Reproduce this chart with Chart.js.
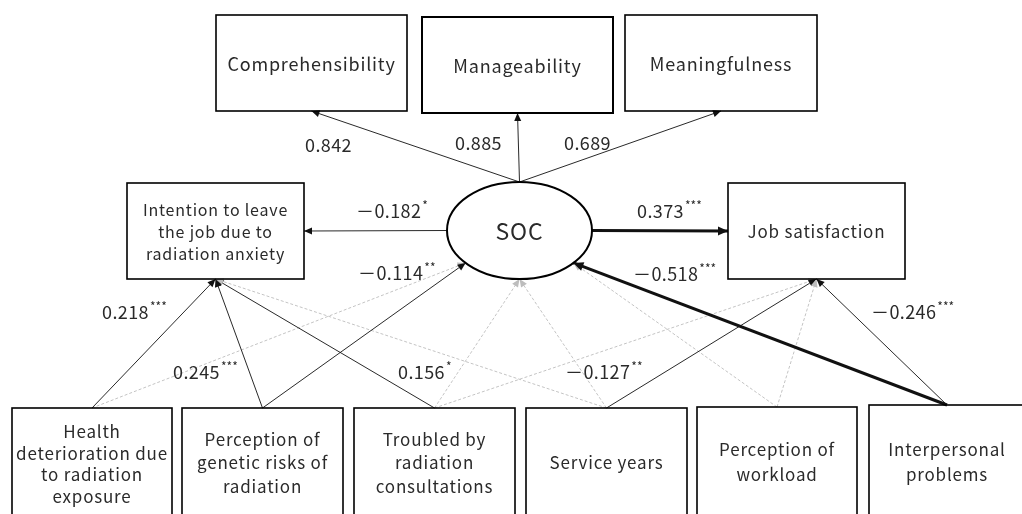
<!DOCTYPE html>
<html>
<head>
<meta charset="utf-8">
<script src="https://cdn.jsdelivr.net/npm/chart.js@4"></script>
<style>
  html, body { margin: 0; padding: 0; background: #fff; }
  #wrap { width: 1022px; height: 514px; }
</style>
</head>
<body>
<div id="wrap"><canvas id="pathChart" width="1022" height="514"></canvas></div>
<script>
// nodes of the path model
var nodeKeys = ["comp", "manag", "mean", "soc", "leave", "job", "health", "genetic", "troubled", "years", "workload", "interp"];
var nodeLabels = [
    ["Comprehensibility"],
    ["Manageability"],
    ["Meaningfulness"],
    ["SOC"],
    ["Intention to leave", "the job due to", "radiation anxiety"],
    ["Job satisfaction"],
    ["Health", "deterioration due", "to radiation", "exposure"],
    ["Perception of", "genetic risks of", "radiation"],
    ["Troubled by", "radiation", "consultations"],
    ["Service years"],
    ["Perception of", "workload"],
    ["Interpersonal", "problems"]
];

// paths (standardised coefficients, null = not significant)
var pathFrom = ["soc", "soc", "soc", "soc", "soc", "health", "genetic", "troubled", "years", "health", "genetic", "troubled", "years", "workload", "interp", "troubled", "years", "workload", "interp"];
var pathTo = ["comp", "manag", "mean", "leave", "job", "leave", "leave", "leave", "leave", "soc", "soc", "soc", "soc", "soc", "soc", "job", "job", "job", "job"];
var pathCoef = ["0.842", "0.885", "0.689", "\uFF0D0.182", "0.373", "0.218", "0.245", "0.156", null, null, "\uFF0D0.114", null, null, null, "\uFF0D0.518", null, "\uFF0D0.127", null, "\uFF0D0.246"];
var pathStars = ["", "", "", "*", "***", "***", "***", "*", "", "", "**", "", "", "", "***", "", "**", "", "***"];

// layout (box left, top, width, height in diagram units)
var nodeBox = {
    comp: [216, 15, 191, 96],
    manag: [422, 17, 191, 96],
    mean: [625, 15, 192, 96],
    soc: [447, 182, 145, 97],
    leave: [127, 183, 177, 96],
    job: [728, 183, 177, 96],
    health: [12, 408, 160, 130],
    genetic: [182, 408, 161, 130],
    troubled: [354, 408, 161, 130],
    years: [526, 408, 161, 130],
    workload: [697, 407, 160, 130],
    interp: [869, 405, 156, 130]
};
var nodeFont = { comp: 18, manag: 18, mean: 18, soc: 23, leave: 16, job: 17 };
var nodeLineH = { leave: 22, health: 21.5, genetic: 23.5, troubled: 23.5, workload: 25, interp: 25 };
var nodeTextY = { health: 464, genetic: 463, troubled: 463, years: 463, workload: 462, interp: 462 };
var thickPaths = [4, 14];
// where arrows hit the SOC ellipse (angle in degrees)
var socAngle = { health: 138, genetic: 138, troubled: 90, years: 90, workload: 42, interp: 42 };
// label left x / middle y
var labelPos = [[305, 145], [455, 143], [564, 143], [356, 211], [637, 211], [102, 312], [173, 372], [398, 372], null, null, [358, 273], null, null, null, [633, 274], null, [565, 372], null, [871, 312]];

var FONT = "'Noto Sans CJK JP', 'Noto Sans', sans-serif";

function boxCenter(k) {
    var b = nodeBox[k];
    return [b[0] + b[2] / 2, b[1] + b[3] / 2];
}

function startPoint(from, to) {
    var b = nodeBox[from];
    var c = boxCenter(from);
    if (from === "soc") {
        if (to === "leave") return [b[0], c[1]];
        if (to === "job") return [b[0] + b[2], c[1]];
        return [c[0], b[1]];
    }
    return [c[0], b[1]];
}

function endPoint(from, to) {
    var b = nodeBox[to];
    var c = boxCenter(to);
    if (to === "soc") {
        var a = socAngle[from] * Math.PI / 180;
        return [c[0] + (b[2] / 2) * Math.cos(a), c[1] + (b[3] / 2) * Math.sin(a)];
    }
    if (from === "soc" && to === "leave") return [b[0] + b[2], c[1]];
    if (from === "soc" && to === "job") return [b[0], c[1]];
    return [c[0], b[1] + b[3]];
}

var datasets = [];
for (let i = 0; i < pathFrom.length; i++) {
    const s = startPoint(pathFrom[i], pathTo[i]);
    const e = endPoint(pathFrom[i], pathTo[i]);
    const sig = pathCoef[i] !== null;
    datasets.push({
        label: pathFrom[i] + "->" + pathTo[i],
        data: [{ x: s[0], y: s[1] }, { x: e[0], y: e[1] }],
        showLine: true,
        pointRadius: 0,
        borderColor: sig ? "#111" : "#c4c4c4",
        borderWidth: thickPaths.indexOf(i) >= 0 ? 3 : (sig ? 0.9 : 1),
        borderDash: sig ? [] : [3, 2],
        order: sig ? 0 : 1
    });
}

var diagramPlugin = {
    id: "diagram",
    afterDatasetsDraw(chart) {
        const ctx = chart.ctx;
        const xs = chart.scales.x;
        const ys = chart.scales.y;
        const px = (v) => xs.getPixelForValue(v);
        const py = (v) => ys.getPixelForValue(v);

        // arrow heads
        chart.data.datasets.forEach((ds, i) => {
            const pts = chart.getDatasetMeta(i).data;
            const a = pts[0], b = pts[1];
            const ang = Math.atan2(b.y - a.y, b.x - a.x);
            const thick = thickPaths.indexOf(i) >= 0;
            const len = thick ? 10 : 8, half = thick ? 4.5 : 3.5;
            ctx.save();
            ctx.fillStyle = pathCoef[i] !== null ? "#111" : "#bdbdbd";
            ctx.beginPath();
            ctx.moveTo(b.x, b.y);
            ctx.lineTo(b.x - len * Math.cos(ang) + half * Math.sin(ang), b.y - len * Math.sin(ang) - half * Math.cos(ang));
            ctx.lineTo(b.x - len * Math.cos(ang) - half * Math.sin(ang), b.y - len * Math.sin(ang) + half * Math.cos(ang));
            ctx.closePath();
            ctx.fill();
            ctx.restore();
        });

        // boxes, ellipse and their text
        nodeKeys.forEach((k, n) => {
            const b = nodeBox[k];
            const c = boxCenter(k);
            ctx.save();
            ctx.strokeStyle = "#000";
            if (k === "soc") {
                ctx.lineWidth = 2;
                ctx.beginPath();
                ctx.ellipse(px(c[0]), py(c[1]), px(b[2] / 2) - px(0), py(b[3] / 2) - py(0), 0, 0, Math.PI * 2);
                ctx.stroke();
            } else {
                ctx.lineWidth = k === "manag" ? 2 : 1.6;
                ctx.strokeRect(px(b[0]), py(b[1]), px(b[0] + b[2]) - px(b[0]), py(b[1] + b[3]) - py(b[1]));
            }
            const lines = nodeLabels[n];
            const size = nodeFont[k] || 17;
            const lh = nodeLineH[k] || 22;
            const cy = nodeTextY[k] || c[1] + 1;
            ctx.fillStyle = "#2a2a2a";
            ctx.font = size + "px " + FONT;
            ctx.letterSpacing = "0.8px";
            ctx.textAlign = "center";
            ctx.textBaseline = "middle";
            lines.forEach((t, j) => {
                ctx.fillText(t, px(c[0]), py(cy + (j - (lines.length - 1) / 2) * lh));
            });
            ctx.restore();
        });

        // coefficients
        ctx.save();
        ctx.fillStyle = "#2a2a2a";
        ctx.textBaseline = "middle";
        ctx.textAlign = "left";
        pathCoef.forEach((t, i) => {
            if (t === null) return;
            const p = labelPos[i];
            ctx.font = "18px " + FONT;
            ctx.letterSpacing = "0.4px";
            ctx.fillText(t, px(p[0]), py(p[1]));
            const w = ctx.measureText(t).width;
            if (pathStars[i]) {
                ctx.font = "12px " + FONT;
                ctx.letterSpacing = "0px";
                ctx.fillText(pathStars[i], px(p[0]) + w + 1, py(p[1] - 6));
            }
        });
        ctx.restore();
    }
};

var chart = new Chart(document.getElementById("pathChart").getContext("2d"), {
    type: "scatter",
    data: { datasets: datasets },
    options: {
        responsive: false,
        animation: false,
        devicePixelRatio: 1,
        events: [],
        layout: { padding: 0 },
        plugins: { legend: { display: false }, tooltip: { enabled: false } },
        scales: {
            x: { type: "linear", min: 0, max: 1022, display: false },
            y: { type: "linear", min: 0, max: 514, reverse: true, display: false }
        }
    },
    plugins: [diagramPlugin]
});
</script>
</body>
</html>
